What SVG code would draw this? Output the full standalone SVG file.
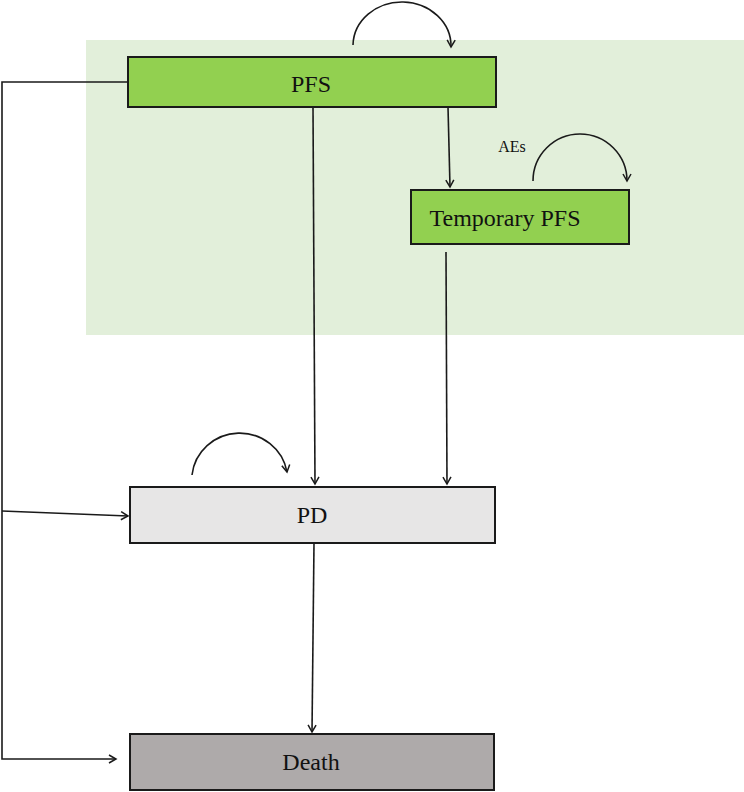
<svg xmlns="http://www.w3.org/2000/svg" width="744" height="792" viewBox="0 0 744 792">
<defs>
<marker id="arr" markerWidth="12" markerHeight="12" refX="9" refY="5" orient="auto" markerUnits="userSpaceOnUse">
<path d="M2,1 L9,5 L2,9" fill="none" stroke="#1a1a1a" stroke-width="1.5"/>
</marker>
<style>
.box{stroke:#1a1a1a;stroke-width:2}
.lbl{font-family:"Liberation Serif","Times New Roman",serif;fill:#111;text-anchor:middle}
.ln{fill:none;stroke:#1a1a1a;stroke-width:1.6}
</style>
</defs>
<rect x="0" y="0" width="744" height="792" fill="#ffffff"/>
<rect id="region" x="86" y="40" width="658" height="295" fill="#e2efda"/>
<g id="connectors">
<path class="ln" d="M128,82 H2 V759 H116" marker-end="url(#arr)"/>
<path class="ln" d="M2,511 L128,516" marker-end="url(#arr)"/>
<path class="ln" d="M313,107 L315,484" marker-end="url(#arr)"/>
<path class="ln" d="M448,107 L450,187" marker-end="url(#arr)"/>
<path class="ln" d="M446,252 L447,484" marker-end="url(#arr)"/>
<path class="ln" d="M314,543 L312,732" marker-end="url(#arr)"/>
<path class="ln" d="M353,45 A49,44 0 0 1 451,47" marker-end="url(#arr)"/>
<path class="ln" d="M533,181 A47,47 0 0 1 627,181" marker-end="url(#arr)"/>
<path class="ln" d="M192,475 A48,47 0 0 1 287,472" marker-end="url(#arr)"/>
</g>
<g id="pfs">
<rect class="box" x="128" y="57" width="368" height="50" fill="#92d050"/>
<text class="lbl" x="311" y="92" font-size="24">PFS</text>
</g>
<g id="temporary-pfs">
<rect class="box" x="411" y="190" width="218" height="54" fill="#92d050"/>
<text class="lbl" x="505" y="226" font-size="24">Temporary PFS</text>
</g>
<text class="lbl" x="512" y="152" font-size="16">AEs</text>
<g id="pd">
<rect class="box" x="130" y="487" width="365" height="56" fill="#e7e6e6"/>
<text class="lbl" x="312" y="523" font-size="24">PD</text>
</g>
<g id="death">
<rect class="box" x="130" y="734" width="364" height="56" fill="#aeaaaa"/>
<text class="lbl" x="311" y="770" font-size="24">Death</text>
</g>
</svg>
